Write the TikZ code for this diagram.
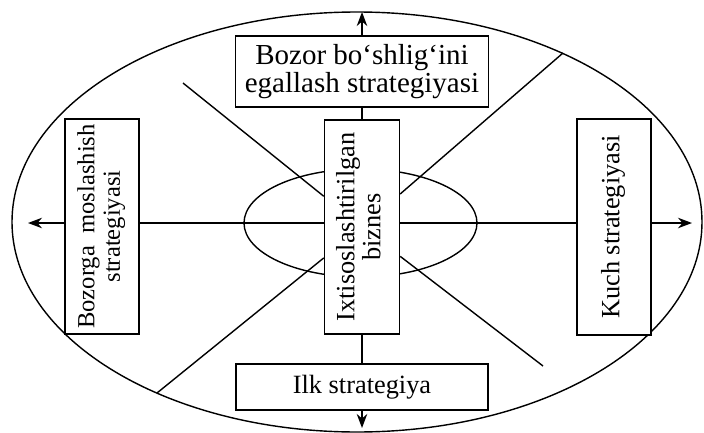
\documentclass[tikz,border=0pt]{standalone}
\usepackage{fontspec}
\setmainfont{Liberation Serif}
\usetikzlibrary{arrows.meta}
\newcommand{\vlabel}[1]{\rotatebox{90}{\begin{tabular}{@{}c@{}}#1\end{tabular}}}

\begin{document}
\begin{tikzpicture}[x=0.02cm, y=-0.02cm, line width=0.8pt,
  box/.style={draw, fill=white, inner sep=0pt, align=center, font=\fontsize{15}{14.5}\selectfont},
  arr/.style={-{Stealth[length=8pt, width=6pt]}}]
  \useasboundingbox (0,0) rectangle (704,433);

  % Outer and inner ellipses
  \draw (357,222) ellipse [x radius=345, y radius=210];
  \draw (360.5,223) ellipse [x radius=116.5, y radius=54];

  % Boxes
  \node[box, minimum width=1.5cm, minimum height=4.28cm] (core) at (362,227) {\vlabel{Ixtisoslashtirilgan\\biznes}};
  \node[box, minimum width=5.06cm, minimum height=1.42cm, font=\fontsize{16.5}{15}\selectfont] (top) at (362,71.5) {Bozor bo‘shlig‘ini\\egallash strategiyasi};
  \node[box, minimum width=5.04cm, minimum height=0.92cm] (first) at (362,387) {Ilk strategiya};
  \node[box, minimum width=1.48cm, minimum height=4.3cm, font=\fontsize{14}{14.5}\selectfont] (adapt) at (102,226.5) {\vlabel{Bozorga\ \ moslashish\\strategiyasi}};
  \node[box, minimum width=1.48cm, minimum height=4.32cm] (power) at (614,227) {\vlabel{Kuch strategiyasi}};

  % Axis ends and diagonal ends
  \coordinate (hub) at (362,223);
  \coordinate (n) at (362,12);
  \coordinate (s) at (362,428);
  \coordinate (w) at (28,223);
  \coordinate (e) at (692,223);
  \coordinate (ul) at (183,83);
  \coordinate (ur) at (563,53);
  \coordinate (ll) at (157,393);
  \coordinate (lr) at (543,366);

  % Vertical axis
  \draw[arr] (top.north) -- (n);
  \draw (core.north) -- (top.south);
  \draw (core.south) -- (first.north);
  \draw[arr] (first.south) -- (s);

  % Horizontal axis
  \draw (adapt.east |- hub) -- (core.west |- hub);
  \draw (core.east |- hub) -- (power.west |- hub);
  \draw[arr] (adapt.west |- hub) -- (w);
  \draw[arr] (power.east |- hub) -- (e);

  % Diagonals
  \draw (ul) -- (core);
  \draw (ur) -- (core);
  \draw (ll) -- (core);
  \draw (lr) -- (core);
\end{tikzpicture}
\end{document}
